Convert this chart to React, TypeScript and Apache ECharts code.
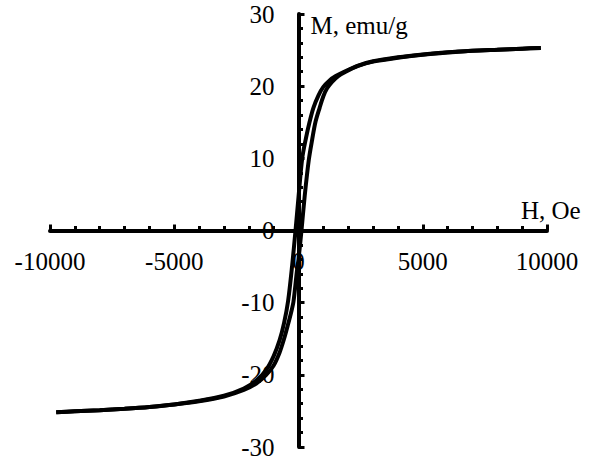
import React, { useEffect, useRef } from "react";
import * as echarts from "echarts";

const xTicks = { min: -10000, max: 10000, interval: 5000 };
const yTicks = { min: -30, max: 30, interval: 10 };
const xAxisName = "H, Oe";
const yAxisName = "M, emu/g";

// Descending branch (field swept from +H to -H)
const descendingBranch: [number, number][] = [
  [9750, 25.3], [9000, 25.2], [8000, 25.05], [7000, 24.9], [6000, 24.7],
  [5000, 24.4], [4000, 24.0], [3000, 23.45], [2400, 22.85], [1900, 22.1],
  [1500, 21.4], [1250, 20.8], [1000, 19.9], [800, 18.7], [600, 17.0],
  [450, 15.1], [300, 12.8], [150, 10.0], [0, 4.6], [-120, 0],
  [-260, -5.0], [-420, -9.8], [-580, -12.8], [-760, -15.2], [-1000, -17.4],
  [-1300, -19.3], [-1700, -20.8], [-2200, -21.9], [-3000, -22.9], [-4000, -23.6],
  [-5000, -24.1], [-6000, -24.45], [-7000, -24.7], [-8000, -24.9], [-9000, -25.05],
  [-9750, -25.2],
];

// Ascending branch (field swept from -H to +H)
const ascendingBranch: [number, number][] = [
  [-9750, -25.2], [-9000, -25.05], [-8000, -24.9], [-7000, -24.7], [-6000, -24.45],
  [-5000, -24.1], [-4000, -23.65], [-3000, -23.0], [-2200, -22.1], [-1700, -21.2],
  [-1300, -20.0], [-1000, -18.7], [-760, -16.9], [-580, -15.0], [-420, -13.0],
  [-300, -11.4], [-200, -9.8], [-60, -5.5], [0, -4.0], [120, 0],
  [250, 4.8], [415, 9.8], [550, 12.6], [680, 15.0], [850, 17.0],
  [1000, 18.6], [1150, 19.7], [1350, 20.6], [1600, 21.4], [1900, 22.0],
  [2400, 22.8], [3000, 23.4], [4000, 23.95], [5000, 24.35], [6000, 24.65],
  [7000, 24.9], [8000, 25.05], [9000, 25.2], [9750, 25.3],
];

const FONT = "'Liberation Serif', 'Times New Roman', serif";

const GRID = { left: 50, right: 45, top: 14, bottom: 15 };
const W = 592;
const H = 462;

export default function App() {
  const ref = useRef<HTMLDivElement>(null);
  useEffect(() => {
    document.body.style.margin = "0";
    if (!ref.current) return;
    const chart = echarts.init(ref.current, null, { renderer: "svg" });
    const plotW = W - GRID.left - GRID.right;
    const plotH = H - GRID.top - GRID.bottom;
    // shift axes so they cross at the origin
    const yOffset = -(plotW * (0 - xTicks.min)) / (xTicks.max - xTicks.min);
    const xOffset = -(plotH * (0 - yTicks.min)) / (yTicks.max - yTicks.min);
    const lineSeries = (name: string, data: [number, number][]) => ({
      name,
      type: "line",
      data,
      showSymbol: false,
      smooth: 0.3,
      lineStyle: { color: "#000", width: 4 },
      silent: true,
    });
    const plain = (v: number) => String(v);
    chart.setOption({
      animation: false,
      backgroundColor: "#fff",
      textStyle: { fontFamily: FONT, color: "#000" },
      grid: { ...GRID, outerBoundsMode: "none" },
      xAxis: {
        type: "value",
        position: "bottom",
        offset: xOffset,
        min: xTicks.min,
        max: xTicks.max,
        interval: xTicks.interval,
        name: xAxisName,
        nameLocation: "end",
        nameGap: -26,
        nameTextStyle: {
          fontFamily: FONT, fontSize: 25, color: "#000", align: "left",
          verticalAlign: "bottom", lineHeight: 25, padding: [0, 0, 8, 0],
        },
        axisLine: { onZero: false, lineStyle: { color: "#000", width: 4 } },
        axisTick: { show: true, inside: true, length: 6, lineStyle: { color: "#000", width: 3 } },
        minorTick: { show: true, splitNumber: 5, length: 4.5, lineStyle: { color: "#000", width: 3 } },
        axisLabel: { fontFamily: FONT, fontSize: 25, color: "#000", margin: 18, formatter: plain },
        splitLine: { show: false },
      },
      yAxis: {
        type: "value",
        position: "left",
        offset: yOffset,
        min: yTicks.min,
        max: yTicks.max,
        interval: yTicks.interval,
        name: yAxisName,
        nameLocation: "end",
        nameGap: -11,
        nameTextStyle: {
          fontFamily: FONT, fontSize: 25, color: "#000", align: "left",
          verticalAlign: "middle", padding: [0, 0, 0, 12],
        },
        axisLine: { onZero: false, lineStyle: { color: "#000", width: 4 } },
        axisTick: { show: true, inside: true, length: 6, lineStyle: { color: "#000", width: 3 } },
        minorTick: { show: true, splitNumber: 5, length: 4.5, lineStyle: { color: "#000", width: 3 } },
        axisLabel: { fontFamily: FONT, fontSize: 25, color: "#000", margin: 24, formatter: plain },
        splitLine: { show: false },
      },
      series: [
        lineSeries("descending", descendingBranch),
        lineSeries("ascending", ascendingBranch),
      ],
    });
    return () => chart.dispose();
  }, []);
  return <div ref={ref} style={{ width: W, height: H }} />;
}
